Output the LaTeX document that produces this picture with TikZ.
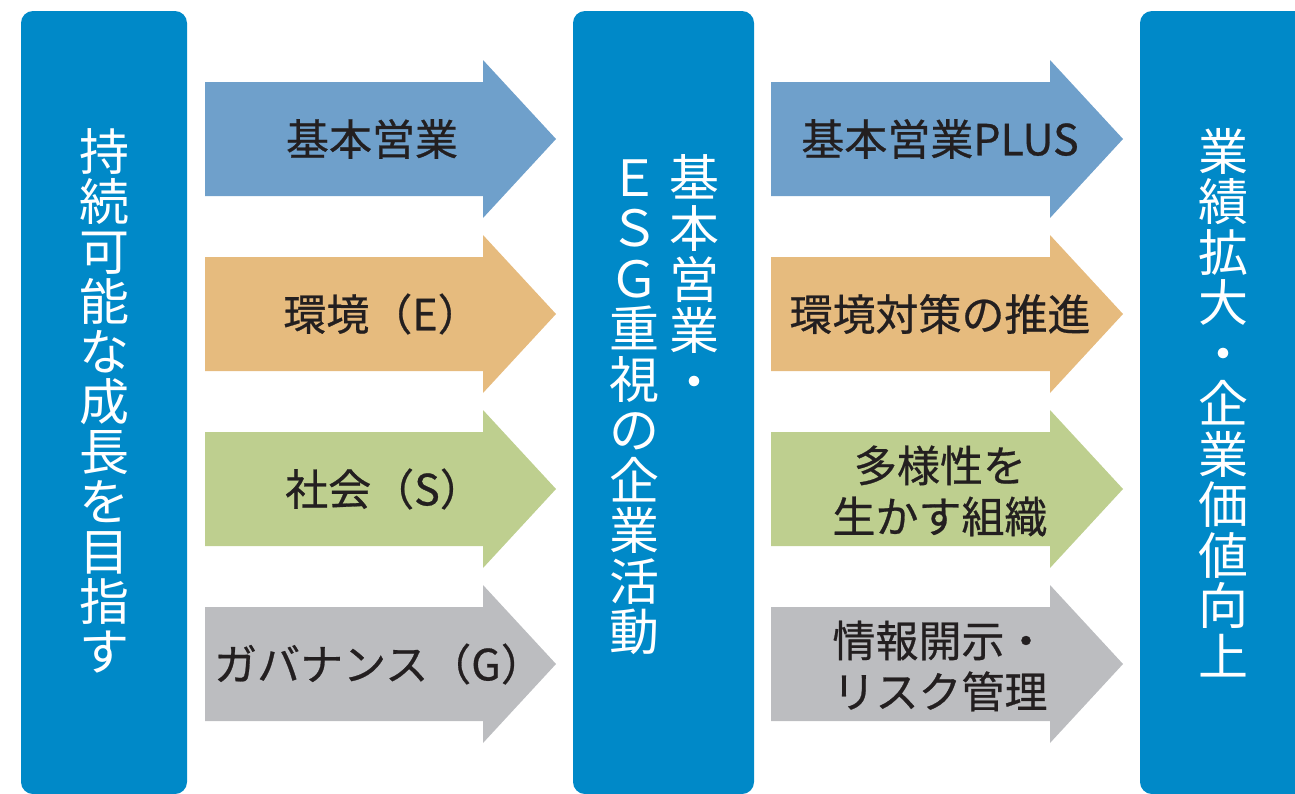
\documentclass[tikz,border=0pt]{standalone}
\usepackage{fontspec}
\newfontfamily\cjk{Noto Sans CJK JP}
\newfontfamily\cjkm[FakeBold=0.6]{Noto Sans CJK JP}
\definecolor{mainblue}{RGB}{0,137,200}
\definecolor{arblue}{RGB}{111,160,203}
\definecolor{artan}{RGB}{230,187,126}
\definecolor{argreen}{RGB}{190,207,143}
\definecolor{argray}{RGB}{188,189,192}
\definecolor{txt}{RGB}{35,31,32}
\begin{document}
\begin{tikzpicture}[x=1pt,y=-1pt,
  colbox/.style={fill=mainblue, rounded corners=12pt},
  vchar/.style={font=\cjk\fontsize{50}{50}\selectfont, text=white, anchor=base, inner sep=0pt},
  atext/.style={font=\cjkm\fontsize{43}{51}\selectfont, text=txt, align=center, inner sep=0pt}
]
\useasboundingbox (0,0) rectangle (1295,793);
% columns
\fill[colbox] (21,11) rectangle (187,794);
\fill[colbox] (573,11) rectangle (754,794);
\fill[colbox] (1140,11) rectangle (1320,794);
% arrows
\foreach \col/\xa/\xb/\xc in {1/205/483/556, 2/771/1050/1123}{
  \foreach \clr [count=\r from 0] in {arblue,artan,argreen,argray}{
    \pgfmathsetmacro{\cy}{139+175*\r}
    \fill[\clr] (\xa,\cy-57) -- (\xb,\cy-57) -- (\xb,\cy-79) -- (\xc,\cy) -- (\xb,\cy+79) -- (\xb,\cy+57) -- (\xa,\cy+57) -- cycle;
  }
}
% arrow texts
\node[atext] (a1) at (372,139) {基本営業};
\node[atext] (a2) at (382,314) {環境（E）};
\node[atext] (a3) at (384,489) {社会（S）};
\node[atext] (a4) at (379,664) {ガバナンス（G）};
\node[atext] (b1) at (940,139) {基本営業PLUS};
\node[atext] (b2) at (940,314) {環境対策の推進};
\node[atext] (b3) at (940,491) {多様性を\\生かす組織};
\node[atext] (b4) at (940,666) {情報開示・\\リスク管理};
% vertical texts
\foreach \c [count=\i from 0] in {持,続,可,能,な,成,長,を,目,指,す}
  \node[vchar] (l\i) at (104,{151+50*\i+19}) {\c};
\foreach \c [count=\i from 0] in {基,本,営,業,・}
  \node[vchar] (m\i) at (694,{177+51*\i+19}) {\c};
\foreach \c [count=\i from 0] in {Ｅ,Ｓ,Ｇ,重,視,の,企,業,活,動}
  \node[vchar] (n\i) at (634,{177+50.5*\i+19}) {\c};
\foreach \c [count=\i from 0] in {業,績,拡,大,・,企,業,価,値,向,上}
  \node[vchar] (r\i) at (1223,{151+50.5*\i+19}) {\c};
\end{tikzpicture}
\end{document}
